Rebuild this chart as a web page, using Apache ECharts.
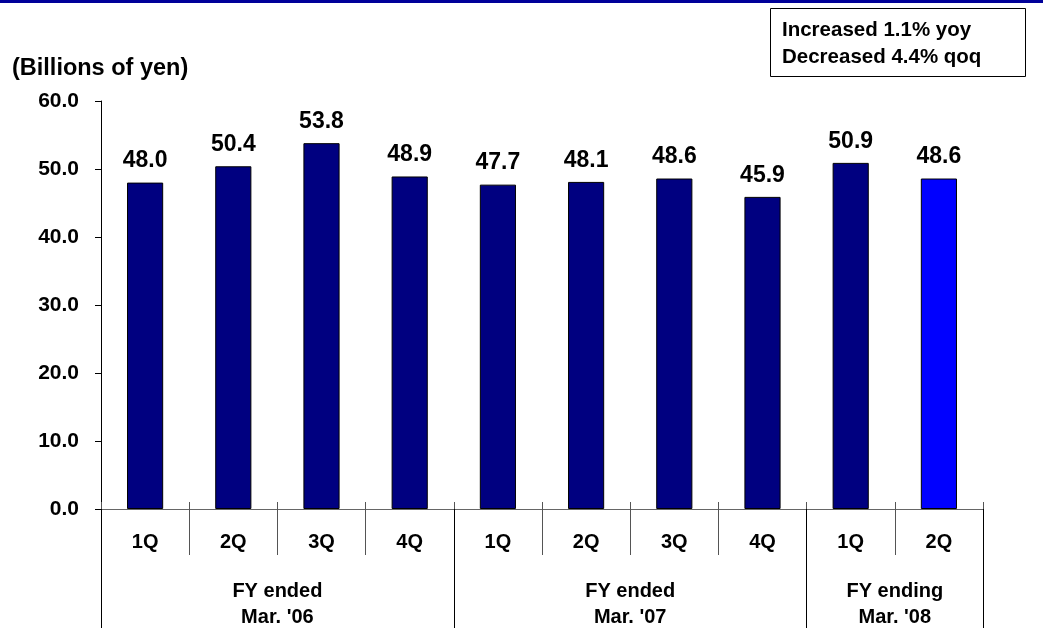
<!DOCTYPE html>
<html><head><meta charset="utf-8">
<script src="https://cdn.jsdelivr.net/npm/echarts@6/dist/echarts.min.js"></script>
<style>html,body{margin:0;padding:0;background:#fff}#c{width:1043px;height:631px}</style>
</head><body><div id="c"></div>
<script>
const quarters = ["1Q","2Q","3Q","4Q","1Q","2Q","3Q","4Q","1Q","2Q"];
const values = [48.0, 50.4, 53.8, 48.9, 47.7, 48.1, 48.6, 45.9, 50.9, 48.6];
const groupLabels = ["FY ended\nMar. '06", "FY ended\nMar. '07", "FY ending\nMar. '08"];
const groupSizes = [4, 4, 2];
const yTicks = [0, 10, 20, 30, 40, 50, 60];
const unitLabel = "(Billions of yen)";
const noteLines = ["Increased 1.1% yoy", "Decreased 4.4% qoq"];

const F = '"Liberation Sans", Arial, sans-serif';
const boundaries = [0];
const centers = [];
groupSizes.forEach(s => { const b = boundaries[boundaries.length-1]; centers.push(b + s/2); boundaries.push(b + s); });
const allBounds = quarters.map((q,i)=>i).concat([quarters.length]);

const chart = echarts.init(document.getElementById('c'), null, {renderer:'canvas'});
chart.setOption({
  animation:false,
  backgroundColor:'#fff',
  grid:{left:101, right:60, top:101, bottom:122},
  xAxis:[
    {type:'category', data:quarters, position:'bottom',
     axisLine:{show:true, lineStyle:{color:'#666', width:1}},
     axisTick:{show:true, interval:0, length:46, lineStyle:{color:'#555'}},
     axisLabel:{interval:0, margin:23, fontFamily:F, fontWeight:'bold', fontSize:20, color:'#000'}},
    {type:'value', min:0, max:quarters.length, position:'bottom',
     axisLine:{show:false}, splitLine:{show:false},
     axisTick:{show:true, customValues:boundaries, length:119, lineStyle:{color:'#000'}},
     axisLabel:{customValues:centers, margin:70, lineHeight:25.5, fontFamily:F, fontWeight:'bold', fontSize:20, color:'#000',
       formatter:(v)=>{const i=centers.indexOf(v); return i>=0?groupLabels[i]:'';}}},
    {type:'value', min:0, max:quarters.length, position:'bottom',
     axisLine:{show:false}, splitLine:{show:false},
     axisTick:{show:true, inside:true, customValues:allBounds, length:7, lineStyle:{color:'#555'}},
     axisLabel:{show:false}}
  ],
  yAxis:{type:'value', min:0, max:60, interval:10,
    axisLine:{show:true, lineStyle:{color:'#000'}},
    axisTick:{show:true, length:6, lineStyle:{color:'#000'}},
    splitLine:{show:false},
    axisLabel:{margin:22, padding:[4,0,0,0], fontFamily:F, fontWeight:'bold', fontSize:21, color:'#000',
      formatter:(v)=>v.toFixed(1)}},
  series:[{
    type:'bar', xAxisIndex:0, barWidth:'41%',
    data: values.map((v,i)=>({value:v, itemStyle:{color: i===values.length-1 ? '#0000FF' : '#000080'}})),
    itemStyle:{borderColor:'#000', borderWidth:1},
    label:{show:true, position:'top', distance:10, fontFamily:F, fontWeight:'bold', fontSize:23, color:'#000',
      formatter:(p)=>p.value.toFixed(1)}
  }],
  graphic:[
    {type:'rect', left:0, top:0, shape:{width:1043, height:3}, style:{fill:'#000099'}},
    {type:'text', left:12, top:57, style:{text:unitLabel, font:'bold 23.5px '+F, fill:'#000'}},
    {type:'rect', left:770, top:8, shape:{width:255, height:68}, style:{fill:'#fff', stroke:'#000', lineWidth:1}},
    {type:'text', left:782, top:17, style:{text:noteLines.join('\n'), font:'bold 20.5px '+F, lineHeight:27, fill:'#000'}}
  ]
});
</script></body></html>
